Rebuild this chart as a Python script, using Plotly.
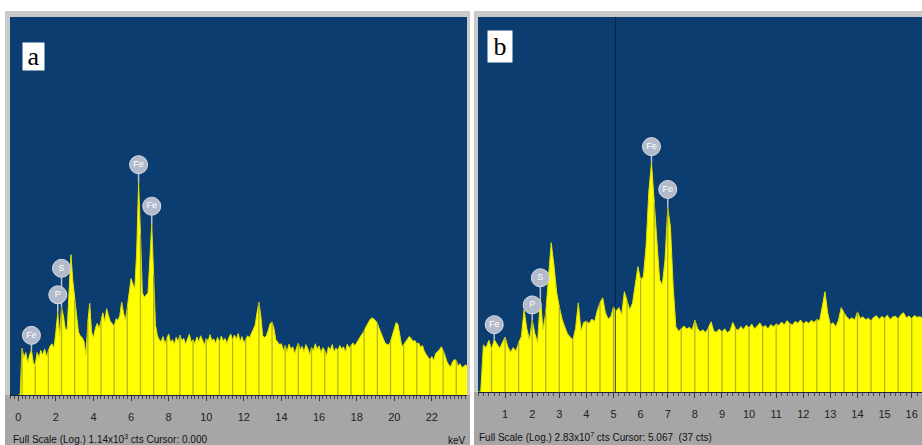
import numpy as np
import plotly.graph_objects as go

W, H = 922, 445

# ---------------- data ----------------
# channel grid: 0.1 keV per channel, starting at 0.0 keV
energy_step_kev = 0.1

# spectrum a, counts per channel (one row = 1 keV)
a_counts = [
    10, 10, 18, 16, 17, 15, 16.5, 17.5, 15, 14.5,          # 0
    17, 16, 17.5, 16.5, 17.8, 16.2, 17.4, 18.5, 19, 18,    # 1
    22, 28, 21, 30, 27, 23, 22.5, 40, 58, 42,              # 2
    33, 26, 22, 21, 20.5, 19.5, 16.5, 25, 31.5, 22,        # 3
    20.5, 23, 24.5, 23, 26, 28, 25, 29.5, 27, 25,          # 4
    24.5, 23.5, 26, 25.5, 27, 32, 28, 25.5, 30, 36,        # 5
    43, 40, 38, 60, 143, 75, 36, 34, 35, 36,               # 6
    55, 85, 45, 24, 21, 20, 19.5, 20.8, 19, 20.2,          # 7
    21.5, 19.3, 20, 18.8, 20.6, 19.6, 21.2, 19.8, 20.3, 18.9,  # 8
    20.1, 21.4, 19.4, 20, 19, 20.7, 19.5, 21, 19.9, 18.7,  # 9
    20.4, 19.6, 21.3, 19.8, 20.2, 19.1, 20.6, 19.3, 20.9, 19.7,  # 10
    20.3, 19, 20.5, 21.5, 19.8, 21.2, 20.1, 21.6, 19.5, 20.8,    # 11
    19.2, 20.3, 21, 20.5, 21.5, 22.5, 24, 28, 32, 27,      # 12
    21, 20.5, 21, 22.5, 24.5, 25, 23, 20, 19.5, 18.8,      # 13
    19, 17.5, 18.6, 17.2, 18.9, 17.8, 18.3, 16.8, 18, 19.2,      # 14
    17.6, 18.4, 17.1, 18.8, 17.9, 16.6, 18.2, 17.4, 19, 17.7,    # 15
    18.5, 17, 18.1, 17.5, 16.4, 18.3, 17.6, 18.8, 17.2, 18,      # 16
    17.4, 18.6, 17.8, 18.3, 17.1, 18.9, 18, 18.6, 19.2, 18.5,    # 17
    19.4, 20, 20.8, 21.5, 22.3, 23.5, 24.8, 25.6, 26.3, 26,      # 18
    25.4, 24.6, 23, 21.5, 20.2, 19.3, 18.9, 18.7, 19.5, 21,      # 19
    23, 24.8, 24.2, 21, 18.4, 18.8, 19.5, 20.1, 20.8, 20.3,      # 20
    19.6, 19.8, 18.9, 19.2, 18.2, 18.6, 17.3, 16.6, 16, 15.5,    # 21
    16.2, 15.4, 16.8, 17.2, 17.6, 18.3, 17.5, 16.4, 15.2, 14.6,  # 22
    14.2, 15.1, 15.6, 15.4, 14.4, 14.8, 14.1, 14.3, 14.6, 14.2,  # 23
]

# spectrum b, counts per channel (one row = 1 keV)
b_counts = [
    10, 10, 20.3, 19.5, 21.8, 19, 22, 20.5, 19.3, 21,      # 0
    22.9, 19.8, 18.2, 19.5, 18.5, 21, 23, 34.5, 26, 21.9,  # 1
    29.6, 24, 21, 41.3, 25.5, 33, 60, 94.8, 68, 45,        # 2
    36, 30, 26.7, 24, 22.9, 21.9, 26, 38.3, 25, 28.5,      # 3
    29, 28, 30, 28.8, 34, 38.3, 41.3, 33, 30, 31,          # 4
    36, 34, 35.6, 32, 45.3, 40, 34.5, 38, 48.8, 66,        # 5
    54, 56.8, 89, 202, 316, 173, 89, 54, 50.3, 73,         # 6
    161, 120, 49, 26.7, 25, 26.2, 27, 25.8, 26.5, 25.4,    # 7
    29.6, 26, 24.8, 25.5, 24.5, 26.3, 28.8, 25, 24.6, 25.8,      # 8
    24.7, 25.9, 24.4, 25.2, 28.5, 26, 25.3, 26.8, 25.6, 27.4,    # 9
    26.2, 27.8, 25.9, 26.9, 28.3, 26.4, 27.2, 25.8, 27.6, 26.7,  # 10
    27.9, 27.2, 28.7, 27.5, 29.3, 28, 27.4, 29, 28.2, 29.6,      # 11
    27.8, 28.9, 28.1, 29.4, 28.5, 29.8, 29.2, 36, 45.3, 33,      # 12
    27.5, 28.4, 26.7, 29.5, 35.6, 33, 31, 29.8, 30.5, 29.6,      # 13
    33.4, 30.2, 31, 29.7, 30.4, 29.2, 30.8, 31.5, 29.9, 31.2,    # 14
    30.3, 31.8, 29.8, 30.9, 31.3, 30.1, 32, 33, 30.6, 31.4,      # 15
    30.2, 31.6, 30.8, 31.1, 30.5,                                # 16
]

a_tick_vals = [0, 2, 4, 6, 8, 10, 12, 14, 16, 18, 20, 22]
b_tick_vals = [1, 2, 3, 4, 5, 6, 7, 8, 9, 10, 11, 12, 13, 14, 15, 16]

a_peak_names = ["Fe", "P", "S", "Fe", "Fe"]
a_peak_kev = [0.7, 2.1, 2.3, 6.4, 7.1]
a_peak_cts = [17.5, 28, 30, 143, 85]

b_peak_names = ["Fe", "P", "S", "Fe", "Fe"]
b_peak_kev = [0.6, 2.0, 2.3, 6.4, 7.0]
b_peak_cts = [22, 29.6, 41.3, 316, 161]

a_full_scale = 1140      # 1.14x10^3 cts
b_full_scale = 2830
b_cursor_kev = 5.067
b_cursor_cts = 37

# ---------------- style / geometry ----------------
BLUE = "#0b3d71"
YELLOW = "#ffff00"
GRAY_AXIS = "#a6a6a6"
GRAY_FRAME = "#c9c9c9"
NARROW = "Liberation Sans Narrow, Arial Narrow, Liberation Sans, sans-serif"

A_BOX = dict(x0=10, x1=467, y0=17, y1=395)   # pixel box of plot area a
B_BOX = dict(x0=478, x1=922, y0=17, y1=392)  # pixel box of plot area b
A_XRANGE = [-0.44, 23.87]
B_XRANGE = [0.0, 16.38]
Y_MIN_LOG = 1.0  # display floor = 10 cts

a_label_offset_px = [15, 18, 39, 18, 18]
b_label_offset_px = [15, 15, 20, 16, 18]


def px_x(px):
    return px / W


def px_y(py):
    return 1 - py / H


a_energy = np.round(energy_step_kev * np.arange(len(a_counts)), 3)
b_energy = np.round(energy_step_kev * np.arange(len(b_counts)), 3)

fig = go.Figure()


def add_panel(energy, counts, xa, ya, full_scale, box, names, kev, cts, offsets, stripe_start, stripe_every):
    floor = 10 ** Y_MIN_LOG
    counts = np.asarray(counts, dtype=float)
    # baseline for fill
    fig.add_trace(go.Scatter(x=energy, y=np.full(len(energy), floor), mode="lines",
                             line=dict(width=0, color=YELLOW), hoverinfo="skip",
                             xaxis=xa, yaxis=ya))
    fig.add_trace(go.Scatter(x=energy, y=counts, mode="lines", fill="tonexty",
                             fillcolor=YELLOW, line=dict(width=1, color="#e2e200"),
                             xaxis=xa, yaxis=ya))
    # darker stripes visible inside the yellow area (subset of the channels)
    idx = np.arange(stripe_start, len(energy), stripe_every)
    stx, sty = [], []
    for i in idx:
        stx += [energy[i], energy[i], None]
        sty += [floor, counts[i], None]
    fig.add_trace(go.Scatter(x=stx, y=sty, mode="lines",
                             line=dict(color="rgba(120,120,55,0.55)", width=1.3),
                             hoverinfo="skip", xaxis=xa, yaxis=ya))
    # peak labels
    dec_per_px = (np.log10(full_scale) - Y_MIN_LOG) / (box["y1"] - box["y0"])
    kev = np.asarray(kev, float)
    cts = np.asarray(cts, float)
    off = np.asarray(offsets, float)
    lab_y = cts * 10 ** (off * dec_per_px)
    stem_top = cts * 10 ** ((off - 7) * dec_per_px)
    sx, sy = [], []
    for k, c0, c1 in zip(kev, cts, stem_top):
        sx += [k, k, None]
        sy += [c0, c1, None]
    fig.add_trace(go.Scatter(x=sx, y=sy, mode="lines", line=dict(color="#b9c1cf", width=1.5),
                             hoverinfo="skip", xaxis=xa, yaxis=ya))
    fig.add_trace(go.Scatter(x=kev, y=lab_y, mode="markers+text", text=names,
                             textposition="middle center",
                             textfont=dict(color="white", size=9, family="Liberation Sans"),
                             marker=dict(symbol="circle", size=18, color="#b2bacb",
                                         line=dict(color="#d8dde6", width=1)),
                             xaxis=xa, yaxis=ya))


add_panel(a_energy, a_counts, "x", "y", a_full_scale, A_BOX, a_peak_names, a_peak_kev,
          a_peak_cts, a_label_offset_px, 2, 7)
add_panel(b_energy, b_counts, "x2", "y2", b_full_scale, B_BOX, b_peak_names, b_peak_kev,
          b_peak_cts, b_label_offset_px, 5, 5)

axis_common = dict(showgrid=False, zeroline=False, showline=True, linecolor="#1c2440",
                   linewidth=1, ticks="outside", ticklen=5, tickcolor="#3a3a3a",
                   tickfont=dict(family=NARROW, size=11, color="#222222"),
                   ticklabelstandoff=7, fixedrange=True)
minor_common = dict(ticks="outside", ticklen=3, tickcolor="#4a4a4a", tickmode="linear",
                    tick0=0, dtick=0.2, showgrid=False)

shapes = [
    # panel frames and axis bands (pixel geometry converted to paper fractions)
    dict(type="rect", xref="paper", yref="paper", x0=px_x(5), x1=px_x(470), y0=px_y(445), y1=px_y(11),
         fillcolor=GRAY_FRAME, line=dict(width=0), layer="below"),
    dict(type="rect", xref="paper", yref="paper", x0=px_x(5), x1=px_x(470), y0=px_y(445), y1=px_y(395),
         fillcolor=GRAY_AXIS, line=dict(width=0), layer="below"),
    dict(type="rect", xref="paper", yref="paper", x0=px_x(474), x1=px_x(922), y0=px_y(445), y1=px_y(11),
         fillcolor=GRAY_FRAME, line=dict(width=0), layer="below"),
    dict(type="rect", xref="paper", yref="paper", x0=px_x(474), x1=px_x(922), y0=px_y(445), y1=px_y(392),
         fillcolor=GRAY_AXIS, line=dict(width=0), layer="below"),
    dict(type="rect", xref="x domain", yref="y domain", x0=0, x1=1, y0=0, y1=1,
         fillcolor=BLUE, line=dict(width=0), layer="below"),
    dict(type="rect", xref="x2 domain", yref="y2 domain", x0=0, x1=1, y0=0, y1=1,
         fillcolor=BLUE, line=dict(width=0), layer="below"),
    # cursor line in b
    dict(type="line", xref="x2", yref="y2 domain", x0=b_cursor_kev, x1=b_cursor_kev, y0=0, y1=1,
         line=dict(color="rgba(10,25,50,0.8)", width=1), layer="above"),
]

annotations = [
    dict(text="a", xref="paper", yref="paper", x=px_x(22), y=px_y(42), xanchor="left", yanchor="top",
         showarrow=False, bgcolor="white", width=19, height=25,
         font=dict(family="Liberation Serif, Times New Roman, serif", size=26, color="black")),
    dict(text="b", xref="paper", yref="paper", x=px_x(487), y=px_y(30), xanchor="left", yanchor="top",
         showarrow=False, bgcolor="white", width=22, height=29,
         font=dict(family="Liberation Serif, Times New Roman, serif", size=26, color="black")),
    dict(text="Full Scale (Log.) %.2fx10<sup>3</sup> cts Cursor: 0.000" % (a_full_scale / 1000),
         xref="paper", yref="paper", x=px_x(11), y=px_y(439), xanchor="left", yanchor="middle",
         showarrow=False, font=dict(family=NARROW, size=10, color="#111111")),
    dict(text="keV", xref="paper", yref="paper", x=px_x(468), y=px_y(440), xanchor="right",
         yanchor="middle", showarrow=False, font=dict(family=NARROW, size=10, color="#111111")),
    dict(text="Full Scale (Log.) %.2fx10<sup>7</sup> cts Cursor: %.3f  (%d cts)"
              % (b_full_scale / 1000, b_cursor_kev, b_cursor_cts),
         xref="paper", yref="paper", x=px_x(477), y=px_y(437), xanchor="left", yanchor="middle",
         showarrow=False, font=dict(family=NARROW, size=10, color="#111111")),
]

fig.update_layout(
    width=W, height=H, margin=dict(l=0, r=0, t=0, b=0),
    paper_bgcolor="white", plot_bgcolor=BLUE, showlegend=False,
    xaxis=dict(domain=[px_x(A_BOX["x0"]), px_x(A_BOX["x1"])], range=A_XRANGE, anchor="y",
               tickmode="array", tickvals=a_tick_vals, minor=minor_common, **axis_common),
    yaxis=dict(domain=[px_y(A_BOX["y1"]), px_y(A_BOX["y0"])], type="log",
               range=[Y_MIN_LOG, np.log10(a_full_scale)], anchor="x", visible=False, fixedrange=True),
    xaxis2=dict(domain=[px_x(B_BOX["x0"]), px_x(B_BOX["x1"])], range=B_XRANGE, anchor="y2",
                tickmode="array", tickvals=b_tick_vals, minor=minor_common, **axis_common),
    yaxis2=dict(domain=[px_y(B_BOX["y1"]), px_y(B_BOX["y0"])], type="log",
                range=[Y_MIN_LOG, np.log10(b_full_scale)], anchor="x2", visible=False, fixedrange=True),
    shapes=shapes,
    annotations=annotations,
)

fig.write_html("out.html")
